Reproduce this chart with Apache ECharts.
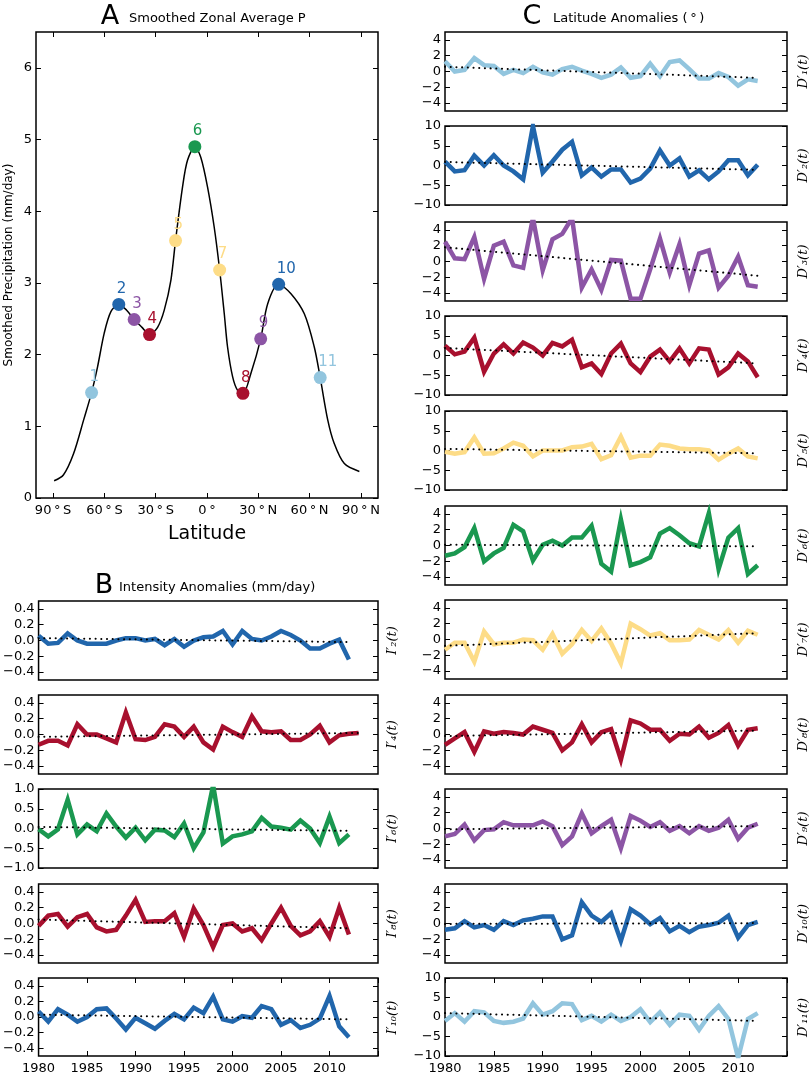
<!DOCTYPE html>
<html><head><meta charset="utf-8">
<script src="https://cdn.jsdelivr.net/npm/echarts@6/dist/echarts.min.js"></script>
<style>html,body{margin:0;padding:0;background:#fff}#c{width:810px;height:1075px}</style>
</head><body><div id="c"></div>
<script>
// ---------------- DATA ----------------
const YEARS = [1980,1981,1982,1983,1984,1985,1986,1987,1988,1989,1990,1991,1992,1993,1994,1995,1996,1997,1998,1999,2000,2001,2002,2003,2004,2005,2006,2007,2008,2009,2010,2011,2012,2013];
const YEAR_TICKS = [1980,1985,1990,1995,2000,2005,2010,2015];
const YEAR_LABELS = [1980,1985,1990,1995,2000,2005,2010];

// Panel A: smoothed zonal average precipitation
const LAT_CURVE = [-89.4,-84,-78,-72,-67.5,-64,-60.1,-56.2,-51.6,-47,-42.6,-38,-33.6,-28.9,-25,-21.1,-18.4,-14.3,-11.4,-7.1,-3.6,0.3,4.2,7.4,10.1,12,15,17.9,21,25.7,31.4,35.5,41.9,49.1,56.9,62.7,66.2,70.6,74.4,80.3,89.1];
const P_CURVE   = [0.24,0.32,0.62,1.10,1.47,1.83,2.30,2.60,2.70,2.62,2.49,2.38,2.28,2.38,2.62,3.04,3.59,4.34,4.71,4.90,4.75,4.34,3.78,3.18,2.57,2.11,1.69,1.50,1.46,1.74,2.22,2.71,2.98,2.85,2.57,2.11,1.68,1.09,0.76,0.48,0.37];
const POINT_LAT = [-67.5,-51.6,-42.6,-33.6,-18.4,-7.1,7.4,21,31.4,41.9,66.2];
const POINT_P   = [1.47,2.70,2.49,2.28,3.59,4.90,3.18,1.46,2.22,2.98,1.68];
const POINT_NAMES = ['1','2','3','4','5','6','7','8','9','10','11'];
const LAT_TICKS = [-90,-60,-30,0,30,60,90];
const P_TICKS = [0,1,2,3,4,5,6];

// Panel B: intensity anomalies (mm/day)
const T2  = [0.06,-0.04,-0.03,0.09,0.00,-0.04,-0.04,-0.04,0.00,0.03,0.03,0.00,0.02,-0.06,0.02,-0.08,0.00,0.04,0.05,0.12,-0.05,0.12,0.02,0.00,0.05,0.12,0.07,0.00,-0.10,-0.10,-0.04,0.01,-0.24];
const T4  = [-0.13,-0.08,-0.08,-0.14,0.13,0.00,0.00,-0.05,-0.10,0.28,-0.06,-0.07,-0.03,0.13,0.10,-0.03,0.10,-0.10,-0.19,0.10,0.03,-0.03,0.23,0.04,0.03,0.04,-0.07,-0.07,0.00,0.11,-0.10,-0.01,0.01,0.02];
const T6  = [-0.02,-0.20,-0.02,0.73,-0.15,0.10,-0.07,0.38,0.05,-0.23,0.02,-0.30,-0.03,-0.05,-0.22,0.13,-0.50,-0.10,1.10,-0.38,-0.20,-0.15,-0.07,0.27,0.05,0.02,-0.03,0.20,0.00,-0.37,0.30,-0.37,-0.15];
const T8  = [-0.03,0.10,0.12,-0.04,0.08,0.12,-0.05,-0.10,-0.08,0.10,0.30,0.02,0.03,0.03,0.13,-0.17,0.19,-0.02,-0.30,-0.02,0.00,-0.10,-0.06,-0.21,0.00,0.20,-0.03,-0.15,-0.10,0.03,-0.17,0.20,-0.14];
const T10 = [0.07,-0.06,0.10,0.03,-0.06,0.00,0.10,0.11,-0.02,-0.16,-0.01,-0.08,-0.15,-0.05,0.04,-0.03,0.12,0.05,0.26,-0.03,-0.06,0.01,-0.01,0.14,0.10,-0.10,-0.04,-0.14,-0.10,-0.02,0.27,-0.12,-0.26];
const T_TRENDS = [[0.03,-0.02],[-0.03,0.02],[0.04,-0.06],[0.05,-0.06],[0.03,-0.03]];
const T_NAMES = ['2','4','6','8','10'];

// Panel C: latitude anomalies (degrees)
const D1  = [1.3,0.0,0.2,1.7,0.8,0.7,-0.3,0.2,-0.2,0.6,-0.1,-0.4,0.3,0.6,0.1,-0.3,-0.8,-0.4,0.5,-0.8,-0.6,1.0,-0.6,1.2,1.4,0.3,-0.9,-0.9,-0.2,-0.7,-1.8,-1.0,-1.2];
const D2  = [1.0,-1.5,-1.2,2.5,0.0,2.6,0.0,-1.5,-3.5,10.0,-1.8,1.0,4.0,6.0,-2.5,-0.5,-2.8,-1.0,-1.0,-4.3,-3.3,-0.8,3.8,0.0,1.8,-2.8,-1.2,-3.5,-1.5,1.3,1.3,-2.5,0.2];
const D3  = [2.5,0.4,0.3,3.1,-2.2,2.0,2.5,-0.5,-0.8,5.5,-1.1,2.8,3.5,5.5,-3.3,-1.0,-3.6,0.2,0.1,-4.7,-4.7,-1.0,2.9,-1.4,2.2,-3.0,1.0,1.4,-3.3,-1.8,0.6,-3.0,-3.2];
const D4  = [2.5,0.3,1.0,4.5,-4.1,0.5,2.8,0.5,3.3,2.0,0.0,3.2,2.3,4.0,-3.0,-2.0,-4.7,0.5,3.0,-2.0,-4.2,-0.3,1.5,-1.5,1.8,-2.0,1.8,1.5,-4.8,-3.0,0.5,-1.5,-5.5];
const D5  = [-0.3,-0.8,-0.4,3.3,-0.8,-0.7,0.5,2.0,1.2,-1.5,0.0,0.0,0.0,0.8,1.0,1.7,-2.2,-1.2,3.5,-1.8,-1.3,-1.3,1.5,1.2,0.5,0.3,0.3,0.0,-2.3,-0.8,0.5,-1.5,-2.0];
const D6  = [-1.3,-1.0,-0.2,2.2,-2.0,-1.0,-0.3,2.6,1.8,-1.9,0.1,0.6,0.0,1.0,1.0,2.5,-2.3,-3.3,3.3,-2.5,-2.1,-1.5,1.5,2.2,1.3,0.3,-0.1,4.1,-3.0,1.0,2.2,-3.6,-2.5];
const D7  = [-1.3,-0.4,-0.4,-2.8,1.0,-0.6,-0.4,-0.4,0.0,-0.1,-1.3,0.7,-1.8,-0.6,1.2,-0.2,1.4,-0.5,-3.0,2.0,1.3,0.5,0.8,-0.1,-0.1,0.0,1.2,0.6,0.0,1.2,-0.4,1.1,0.6];
const D8  = [-1.3,-0.5,0.3,-2.2,0.4,0.1,0.3,0.2,0.0,1.0,0.6,0.2,-2.0,-1.0,1.3,-1.0,0.3,0.7,-3.2,1.8,1.4,0.6,0.6,-0.8,0.1,0.0,1.0,-0.4,0.2,1.2,-1.4,0.6,0.8];
const D9  = [-1.0,-0.7,0.5,-1.5,-0.2,-0.1,0.8,0.4,0.4,0.4,0.9,0.3,-2.1,-1.0,1.9,-0.6,0.3,1.1,-2.5,1.6,1.0,0.2,0.8,-0.3,0.3,-0.6,0.3,-0.3,0.1,1.1,-1.3,0.1,0.6];
const D10 = [-0.8,-0.6,0.3,-0.5,-0.2,-0.8,0.3,-0.2,0.4,0.6,0.9,0.9,-2.0,-1.5,2.7,1.0,0.2,1.3,-2.2,1.8,1.0,-0.1,0.7,-1.0,-0.3,-1.1,-0.4,-0.2,0.1,1.0,-1.8,-0.2,0.2];
const D11 = [-1.0,1.0,-1.2,1.5,1.2,-1.0,-1.5,-1.2,-0.4,3.5,0.6,1.5,3.5,3.3,-0.8,0.3,-1.2,0.6,-1.0,0.0,2.0,-1.3,1.2,-2.0,0.6,0.3,-3.3,0.3,2.8,-0.5,-10.5,-0.5,1.0];
const D_TRENDS = [[0.6,-0.8],[0.9,-1.1],[1.8,-1.8],[1.9,-2.0],[0.4,-0.7],[0.1,-0.1],[-0.8,0.8],[-0.2,0.5],[-0.1,0.3],[-0.05,0.05],[1.0,-1.0]];
const D_NAMES = ['1','2','3','4','5','6','7','8','9','10','11'];

const TICKS_05 = [-0.4,-0.2,0,0.2,0.4];
const TICKS_1  = [-1,-0.5,0,0.5,1];
const TICKS_5  = [-4,-2,0,2,4];
const TICKS_10 = [-10,-5,0,5,10];

// ---------------- STYLE / BUILD ----------------
const FONT = 'DejaVu Sans';
const COL = {lb:'#92c5de', b:'#2166ac', p:'#8c55a5', r:'#a8102e', y:'#fddc87', g:'#1a9850'};
const POINT_COLORS = [COL.lb,COL.b,COL.p,COL.r,COL.y,COL.g,COL.y,COL.r,COL.p,COL.b,COL.lb];
const SUB = {'0':'₀','1':'₁','2':'₂','3':'₃','4':'₄','5':'₅','6':'₆','7':'₇','8':'₈','9':'₉'};
const sub = s => s.split('').map(c => SUB[c]).join('');
const minus = s => String(s).replace('-', '\u2212');

const grids = [], xAxes = [], yAxes = [], series = [], graphics = [];

function addPanel(p) {
  const gi = grids.length;
  grids.push({left:p.left, top:p.top, width:p.width, height:p.height, show:true,
    borderColor:'#000', borderWidth:1.5, backgroundColor:'rgba(0,0,0,0)'});
  const tick = (show, vals) => ({show, inside:true, length:5, lineStyle:{color:'#000', width:1}, customValues:vals});
  const line = {show:false, onZero:false};
  const xi = xAxes.length;
  xAxes.push({gridIndex:gi, type:'value', position:'bottom', min:p.xmin, max:p.xmax,
    axisLine:line, splitLine:{show:false}, axisTick:tick(p.showX, p.xticks),
    axisLabel:{show:p.showX, customValues:p.xlabels, formatter:p.xfmt, margin:6, color:'#000', fontSize:13, fontFamily:FONT}});
  xAxes.push({gridIndex:gi, type:'value', position:'top', min:p.xmin, max:p.xmax,
    axisLine:line, splitLine:{show:false}, axisTick:tick(p.showX, p.xticks), axisLabel:{show:false}});
  const yi = yAxes.length;
  yAxes.push({gridIndex:gi, type:'value', position:'left', min:p.ymin, max:p.ymax,
    axisLine:line, splitLine:{show:false}, axisTick:tick(true, p.yticks),
    axisLabel:{show:true, customValues:p.yticks, formatter:p.yfmt, margin:4, color:'#000', fontSize:13, fontFamily:FONT}});
  yAxes.push({gridIndex:gi, type:'value', position:'right', min:p.ymin, max:p.ymax,
    axisLine:line, splitLine:{show:false}, axisTick:tick(true, p.yticks), axisLabel:{show:false}});
  return {xi, yi};
}

// ---- Panel A ----
{
  const a = addPanel({left:36, top:32, width:342, height:466, xmin:-100, xmax:100,
    xticks:LAT_TICKS, xlabels:LAT_TICKS, showX:true,
    xfmt: v => v === 0 ? '0\u2009°' : (Math.abs(v) + '\u2009°\u2009' + (v < 0 ? 'S' : 'N')),
    ymin:0, ymax:6.5, yticks:P_TICKS, yfmt: v => String(v)});
  series.push({type:'line', xAxisIndex:a.xi, yAxisIndex:a.yi, smooth:0.3, symbol:'none',
    lineStyle:{color:'#000', width:1.5}, data: LAT_CURVE.map((x,i)=>[x, P_CURVE[i]]), z:2});
  series.push({type:'scatter', xAxisIndex:a.xi, yAxisIndex:a.yi, symbolSize:13, z:3,
    data: POINT_LAT.map((x,i)=>({value:[x, POINT_P[i]], name:POINT_NAMES[i],
      itemStyle:{color:POINT_COLORS[i], opacity:1},
      label:{color:POINT_COLORS[i]}})),
    label:{show:true, formatter: d => d.name, position:[4.5,-9], align:'left', verticalAlign:'middle',
      fontSize:15, fontFamily:FONT}});
  graphics.push({type:'text', x:110, y:17, style:{text:'A', font:'27px "DejaVu Sans"', fill:'#000', textAlign:'center', textVerticalAlign:'middle'}});
  graphics.push({type:'text', x:129, y:19, style:{text:'Smoothed Zonal Average P', font:'13px "DejaVu Sans"', fill:'#000', textAlign:'left', textVerticalAlign:'middle'}});
  graphics.push({type:'text', x:9, y:265, rotation:Math.PI/2, style:{text:'Smoothed Precipitation (mm/day)', font:'12px "DejaVu Sans"', fill:'#000', textAlign:'center', textVerticalAlign:'middle'}});
  graphics.push({type:'text', x:207, y:534, style:{text:'Latitude', font:'19px "DejaVu Sans"', fill:'#000', textAlign:'center', textVerticalAlign:'middle'}});
}

// ---- Panels B and C ----
function addTS(left, top, vals, color, trend, ticks, fmt, isBottom, labelText, labelX) {
  const h = 79, w = 342;
  const top1 = ticks[ticks.length-1];
  const lim = top1 === 10 ? 10 : (top1 === 1 ? 1 : (top1 === 4 ? 5 : 0.5));
  const ax = addPanel({left, top, width:w, height:h, xmin:1980, xmax:2015,
    xticks:YEAR_TICKS, xlabels:YEAR_LABELS, showX:isBottom, xfmt: v => String(v),
    ymin:-lim, ymax:lim, yticks:ticks, yfmt:fmt});
  series.push({type:'line', xAxisIndex:ax.xi, yAxisIndex:ax.yi, symbol:'none', clip:true,
    lineStyle:{color, width:4.5, join:'miter'}, data: vals.map((v,i)=>[YEARS[i], v]), z:2});
  series.push({type:'line', xAxisIndex:ax.xi, yAxisIndex:ax.yi, symbol:'none', clip:true,
    lineStyle:{color:'#000', width:2, type:[0.1,5.6], cap:'round'},
    data: [[YEARS[0], trend[0]], [YEARS[vals.length-1], trend[1]]], z:4});
  graphics.push({type:'text', x:labelX, y:top + h/2, rotation:Math.PI/2,
    style:{text:labelText, font:'italic 13px "DejaVu Serif"', fill:'#000', textAlign:'center', textVerticalAlign:'middle'}});
}

const fmt1 = v => minus(v.toFixed(1));
const fmt0 = v => minus(String(Math.round(v)));

const B_TOPS = [601, 695, 789, 884, 978];
const B_SERIES = [T2, T4, T6, T8, T10];
const B_COLORS = [COL.b, COL.r, COL.g, COL.r, COL.b];
const B_TICKS = [TICKS_05, TICKS_05, TICKS_1, TICKS_05, TICKS_05];
B_SERIES.forEach((s, i) => addTS(36, B_TOPS[i], s, B_COLORS[i], T_TRENDS[i], B_TICKS[i], fmt1, i === 4,
  'I\u2032' + sub(T_NAMES[i]) + '(t)', 393));
graphics.push({type:'text', x:104, y:586, style:{text:'B', font:'27px "DejaVu Sans"', fill:'#000', textAlign:'center', textVerticalAlign:'middle'}});
graphics.push({type:'text', x:119, y:588, style:{text:'Intensity Anomalies (mm/day)', font:'13px "DejaVu Sans"', fill:'#000', textAlign:'left', textVerticalAlign:'middle'}});

const C_TOPS = [32, 126, 222, 316, 411, 506, 600, 695, 789, 884, 978];
const C_SERIES = [D1, D2, D3, D4, D5, D6, D7, D8, D9, D10, D11];
const C_COLORS = [COL.lb, COL.b, COL.p, COL.r, COL.y, COL.g, COL.y, COL.r, COL.p, COL.b, COL.lb];
const C_TICKS = [TICKS_5, TICKS_10, TICKS_5, TICKS_10, TICKS_10, TICKS_5, TICKS_5, TICKS_5, TICKS_5, TICKS_5, TICKS_10];
C_SERIES.forEach((s, i) => addTS(445, C_TOPS[i], s, C_COLORS[i], D_TRENDS[i], C_TICKS[i], fmt0, i === 10,
  'D\u2032' + sub(D_NAMES[i]) + '(t)', 804));
graphics.push({type:'text', x:532, y:17, style:{text:'C', font:'27px "DejaVu Sans"', fill:'#000', textAlign:'center', textVerticalAlign:'middle'}});
graphics.push({type:'text', x:553, y:19, style:{text:'Latitude Anomalies (\u2009°\u2009)', font:'13px "DejaVu Sans"', fill:'#000', textAlign:'left', textVerticalAlign:'middle'}});

const chart = echarts.init(document.getElementById('c'), null, {renderer:'canvas'});
chart.setOption({
  animation:false, backgroundColor:'#fff',
  textStyle:{fontFamily:FONT},
  grid:grids, xAxis:xAxes, yAxis:yAxes, series, graphic:graphics
});
</script></body></html>
